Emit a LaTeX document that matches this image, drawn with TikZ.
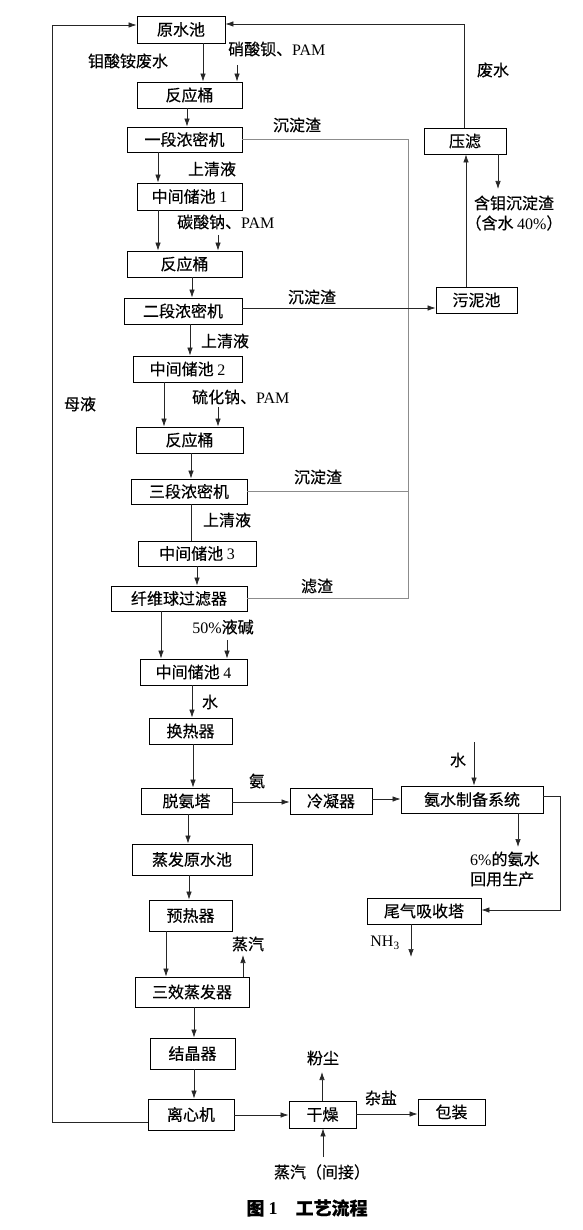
\documentclass[tikz,border=0pt]{standalone}
\usepackage{fontspec}
\setmainfont{Noto Sans CJK SC}[FakeBold=0.35]
\newfontfamily\lat{Liberation Serif}
\newcommand\ltn[1]{{\lat #1}}
\usetikzlibrary{arrows.meta}
\begin{document}
\begin{tikzpicture}[x=1pt,y=-1pt,
  box/.style={draw, line width=0.9pt, inner sep=0pt, font=\fontsize{16}{19}\selectfont},
  lbl/.style={inner sep=0pt, font=\fontsize{16}{19}\selectfont},
  ln/.style={line width=0.7pt, draw=black!85},
  gln/.style={line width=0.7pt, draw=black!45},
  arr/.style={ln, -{Latex[length=8pt,width=5.5pt]}}
]
\useasboundingbox (0,0) rectangle (582,1230);
% boxes
\node[box, minimum width=88, minimum height=27] (yuan) at (181,29.5) {原水池};
\node[box, minimum width=105, minimum height=26] (fy1) at (189.5,95) {反应桶};
\node[box, minimum width=115, minimum height=25] (ds1) at (184.5,139.5) {一段浓密机};
\node[box, minimum width=105, minimum height=27] (zj1) at (189.5,196.5) {中间储池 \ltn{1}};
\node[box, minimum width=115, minimum height=26] (fy2) at (184.5,264) {反应桶};
\node[box, minimum width=118, minimum height=26] (ds2) at (183,311) {二段浓密机};
\node[box, minimum width=109, minimum height=26] (zj2) at (187.5,369) {中间储池 \ltn{2}};
\node[box, minimum width=107, minimum height=26] (fy3) at (189.5,440) {反应桶};
\node[box, minimum width=116, minimum height=25] (ds3) at (189,491.5) {三段浓密机};
\node[box, minimum width=118, minimum height=25] (zj3) at (197,553.5) {中间储池 \ltn{3}};
\node[box, minimum width=136, minimum height=25] (xw) at (179,598.5) {纤维球过滤器};
\node[box, minimum width=107, minimum height=26] (zj4) at (193.5,672) {中间储池 \ltn{4}};
\node[box, minimum width=83, minimum height=26] (hr) at (190.5,731) {换热器};
\node[box, minimum width=91, minimum height=26] (ta) at (186.5,801) {脱氨塔};
\node[box, minimum width=82, minimum height=26] (lnq) at (331,801) {冷凝器};
\node[box, minimum width=142, minimum height=27] (as) at (472,799.5) {氨水制备系统};
\node[box, minimum width=114, minimum height=26] (wq) at (424,911) {尾气吸收塔};
\node[box, minimum width=120, minimum height=31] (zf) at (192,859.5) {蒸发原水池};
\node[box, minimum width=83, minimum height=31] (yr) at (190.5,915.5) {预热器};
\node[box, minimum width=114, minimum height=30] (sx) at (192,992) {三效蒸发器};
\node[box, minimum width=85, minimum height=31] (jj) at (192.5,1053.5) {结晶器};
\node[box, minimum width=86, minimum height=31] (lx) at (191,1114.5) {离心机};
\node[box, minimum width=67, minimum height=27] (gz) at (322.5,1114.5) {干燥};
\node[box, minimum width=67, minimum height=26] (bz) at (451.5,1112) {包装};
\node[box, minimum width=82, minimum height=26] (yl) at (465,141) {压滤};
\node[box, minimum width=81, minimum height=26] (wn) at (476.5,300) {污泥池};
% labels
\node[lbl] (t1) at (128,61) {钼酸铵废水};
\node[lbl, anchor=west] (t2) at (228,49) {硝酸钡、\ltn{PAM}};
\node[lbl] (t3) at (297,125) {沉淀渣};
\node[lbl] (t4) at (212,169) {上清液};
\node[lbl] (t5) at (493,70) {废水};
\node[lbl] (t6) at (514,203) {含钼沉淀渣};
\node[lbl] (t7) at (514,223) {（含水 \ltn{40\%}）};
\node[lbl, anchor=west] (t8) at (177,222) {碳酸钠、\ltn{PAM}};
\node[lbl] (t9) at (312,297) {沉淀渣};
\node[lbl] (t10) at (225,341) {上清液};
\node[lbl] (t11) at (80,404) {母液};
\node[lbl, anchor=west] (t12) at (192,397) {硫化钠、\ltn{PAM}};
\node[lbl] (t13) at (318,477) {沉淀渣};
\node[lbl] (t14) at (227,520) {上清液};
\node[lbl] (t15) at (317,586) {滤渣};
\node[lbl] (t16) at (223,627) {\ltn{50\%}液碱};
\node[lbl] (t17) at (210,702) {水};
\node[lbl] (t18) at (257,781) {氨};
\node[lbl] (t19) at (458,760) {水};
\node[lbl, anchor=west] (t20) at (470,859) {\ltn{6\%}的氨水};
\node[lbl, anchor=west] (t21) at (470,879) {回用生产};
\node[lbl] (t22) at (385,943) {\ltn{NH\textsubscript{3}}};
\node[lbl] (t23) at (248,944) {蒸汽};
\node[lbl] (t24) at (323,1058) {粉尘};
\node[lbl] (t25) at (381,1098) {杂盐};
\node[lbl] (t26) at (322,1172) {蒸汽（间接）};
\node[lbl, font=\fontsize{18}{21}\selectfont\bfseries] (cap) at (307,1208) {图 \ltn{1}\quad 工艺流程};
% free ends
\coordinate (c1) at (237,65);
\coordinate (c2) at (218,235);
\coordinate (c3) at (218,407);
\coordinate (c4) at (227,640);
\coordinate (c5) at (474,742);
\coordinate (c6) at (518,847);
\coordinate (c7) at (411,957);
\coordinate (c8) at (243,955);
\coordinate (c9) at (322,1072);
\coordinate (c10) at (323,1157);
\coordinate (c11) at (498,189);
% connectors
\draw[arr] (yuan.south -| 203,0) -- (fy1.north -| 203,0);
\draw[arr] (c1) -- (fy1.north -| c1);
\draw[arr] (fy1.south -| 187,0) -- (ds1.north -| 187,0);
\draw[arr] (ds1.south -| 158,0) -- (zj1.north -| 158,0);
\draw[gln] (ds1.east) -- (408,139.5) -- (408,598) -- (xw.east |- 0,598);
\draw[gln] (ds3.east) -- (408,491.5);
\draw[arr] (ds2.east |- 0,308) -- (wn.west |- 0,308);
\draw[arr] (wn.north -| 466,0) -- (yl.south -| 466,0);
\draw[arr] (yl.south -| c11) -- (c11);
\draw[arr] (yl.north -| 464,0) -- (464,24) -- (yuan.east |- 0,24);
\draw[arr] (zj1.south -| 158,0) -- (fy2.north -| 158,0);
\draw[arr] (c2) -- (fy2.north -| c2);
\draw[arr] (fy2.south -| 192,0) -- (ds2.north -| 192,0);
\draw[arr] (ds2.south -| 190,0) -- (zj2.north -| 190,0);
\draw[arr] (zj2.south -| 164,0) -- (fy3.north -| 164,0);
\draw[arr] (c3) -- (fy3.north -| c3);
\draw[arr] (fy3.south -| 191,0) -- (ds3.north -| 191,0);
\draw[ln] (ds3.south -| 191,0) -- (zj3.north -| 191,0);
\draw[arr] (zj3.south -| 197,0) -- (xw.north -| 197,0);
\draw[arr] (xw.south -| 161,0) -- (zj4.north -| 161,0);
\draw[arr] (c4) -- (zj4.north -| c4);
\draw[arr] (zj4.south -| 192,0) -- (hr.north -| 192,0);
\draw[arr] (hr.south -| 193,0) -- (ta.north -| 193,0);
\draw[arr] (ta.east |- 0,802) -- (lnq.west |- 0,802);
\draw[arr] (lnq.east |- 0,799) -- (as.west |- 0,799);
\draw[arr] (c5) -- (as.north -| c5);
\draw[arr] (as.south -| c6) -- (c6);
\draw[arr] (as.east |- 0,796) -- (560,796) -- (560,910) -- (wq.east |- 0,910);
\draw[arr] (wq.south -| c7) -- (c7);
\draw[arr] (ta.south -| 188,0) -- (zf.north -| 188,0);
\draw[arr] (zf.south -| 189,0) -- (yr.north -| 189,0);
\draw[arr] (yr.south -| 166,0) -- (sx.north -| 166,0);
\draw[arr] (sx.north -| c8) -- (c8);
\draw[arr] (sx.south -| 194,0) -- (jj.north -| 194,0);
\draw[arr] (jj.south -| 194,0) -- (lx.north -| 194,0);
\draw[arr] (lx.west |- 0,1122) -- (52,1122) -- (52,25) -- (yuan.west |- 0,25);
\draw[arr] (lx.east |- 0,1115) -- (gz.west |- 0,1115);
\draw[arr] (gz.north -| c9) -- (c9);
\draw[arr] (gz.east |- 0,1114) -- (bz.west |- 0,1114);
\draw[arr] (c10) -- (gz.south -| c10);
\end{tikzpicture}
\end{document}
